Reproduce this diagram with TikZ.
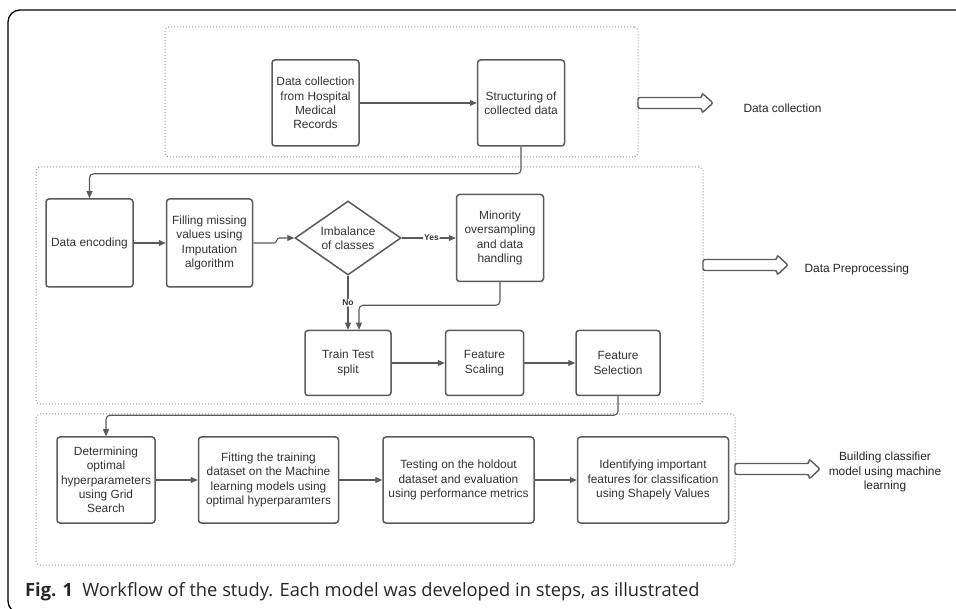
\documentclass[tikz,border=0pt]{standalone}
\usepackage{fontspec}
\setmainfont{Liberation Sans}
\newfontfamily\capfont{Open Sans}
\usetikzlibrary{arrows.meta,positioning,shapes.geometric}
\definecolor{boxgray}{HTML}{5A5A5A}
\definecolor{txtgray}{HTML}{333333}
\begin{document}
\begin{tikzpicture}[x=1pt,y=-1pt,>={Triangle[length=7pt,width=6pt]},
font=\fontsize{11.9}{14.3}\selectfont,text=txtgray,node distance=32pt,
stepbox/.style={draw=boxgray,line width=1.5pt,rounded corners=3pt,align=center,inner sep=2pt},
decide/.style={diamond,draw=boxgray,line width=1.5pt,aspect=1.43,inner sep=0pt,minimum width=106pt,minimum height=74pt,align=center},
group/.style={draw=gray!80,dash pattern=on 1pt off 2pt,line width=1pt,rounded corners=4pt,inner sep=0pt},
arr/.style={->,draw=boxgray,line width=1.1pt,rounded corners=4pt},
blk/.style={draw=boxgray,line width=1.4pt,rounded corners=2pt,fill=white},
side/.style={text=black!85,align=center},
tag/.style={font=\fontsize{8.5}{9}\selectfont\bfseries,fill=white,inner sep=1pt}]
\useasboundingbox (0,0) rectangle (956,609);
\clip (0,0) rectangle (956,609);
% figure frame
\draw[line width=1.3pt,rounded corners=12pt] (970,10) -- (8,10) -- (8,613) -- (970,613);
% stage groups
\node[group,minimum width=473pt,minimum height=130pt] (grpA) at (401.5,92) {};
\node[group,minimum width=667pt,minimum height=237pt] (grpB) at (369.5,285.5) {};
\node[group,minimum width=699pt,minimum height=151pt] (grpC) at (385.5,489.5) {};
% data collection
\node[stepbox,minimum width=87pt,minimum height=86pt] (hosp) at (315.5,103) {Data collection\\from Hospital\\Medical\\Records};
\node[stepbox,minimum width=87pt,minimum height=86pt,right=117pt of hosp] (struct) {Structuring of\\collected data};
% preprocessing
\node[stepbox,minimum width=87pt,minimum height=88pt] (enc) at (89.5,243) {Data encoding};
\node[stepbox,minimum width=86pt,minimum height=88pt,right=of enc] (fill) {Filling missing\\values using\\Imputation\\algorithm};
\node[decide] (imb) at (348,238) {Imbalance\\of classes};
\node[stepbox,minimum width=87pt,minimum height=87pt,right=54pt of imb] (minor) {Minority\\oversampling\\and data\\handling};
\node[stepbox,minimum width=86pt,minimum height=65pt,below=54pt of imb] (split) {Train Test\\split};
\node[stepbox,minimum width=78pt,minimum height=65pt,right=53pt of split] (scale) {Feature\\Scaling};
\node[stepbox,minimum width=84pt,minimum height=65pt,right=51pt of scale] (select) {Feature\\Selection};
% classifier
\node[stepbox,minimum width=98pt,minimum height=86pt] (grid) at (106,480) {Determining\\optimal\\hyperparameters\\using Grid\\Search};
\node[stepbox,minimum width=140pt,minimum height=86pt,right=42pt of grid] (fit) {Fitting the training\\dataset on the Machine\\learning models using\\optimal hyperparamters};
\node[stepbox,minimum width=151pt,minimum height=86pt,right=43pt of fit] (test) {Testing on the holdout\\dataset and evaluation\\using performance metrics};
\node[stepbox,minimum width=151pt,minimum height=86pt,right=42pt of test] (shap) {Identifying important\\features for classification\\using Shapely Values};
% connectors
\draw[arr] (hosp) -- (struct);
\draw[arr] (struct.south) -- ++(0,27) -| (enc.north);
\draw[arr] (enc) -- (fill);
\draw[arr,sharp corners] (fill.east) -- ++(21,0) to[out=0,in=180] ++(5,-5) -- (imb.west);
\draw[arr] (imb) -- node[tag,pos=.55]{Yes} (minor);
\draw[arr] (imb.south) -- node[tag]{No} (split.north);
\draw[arr] (minor.south) -- ++(0,23) -| ([xshift=11pt]split.north);
\draw[arr] (split) -- (scale);
\draw[arr] (scale) -- (select);
\draw[arr] (select.south) -- ++(0,19) -| (grid.north);
\draw[arr] (grid) -- (fit);
\draw[arr] (fit) -- (test);
\draw[arr] (test) -- (shap);
% stage arrows and names
\foreach \x/\y/\len in {638/103/75,703/265/85,735/469/85}
  \draw[blk] (\x,\y) ++(0,-5.5) -- ++(\len-11,0) -- ++(0,-4.5) -- ++(11,10) -- ++(-11,10) -- ++(0,-4.5) -- ++(-\len+11,0) -- cycle;
\node[side,anchor=base west] (lblA) at (740,112.7) {Data collection};
\node[side,anchor=base west] (lblB) at (801,273) {Data Preprocessing};
\node[side] (lblC) at (885,472) {Building classifier\\model using machine\\learning};
% caption
\node[anchor=base west,font=\capfont\fontsize{18.3}{20}\selectfont,text=black!85,inner sep=0pt] (cap) at (25,596) {\textbf{Fig. 1}\hspace{0.5em}Workflow of the study. Each model was developed in steps, as illustrated};
\end{tikzpicture}
\end{document}
